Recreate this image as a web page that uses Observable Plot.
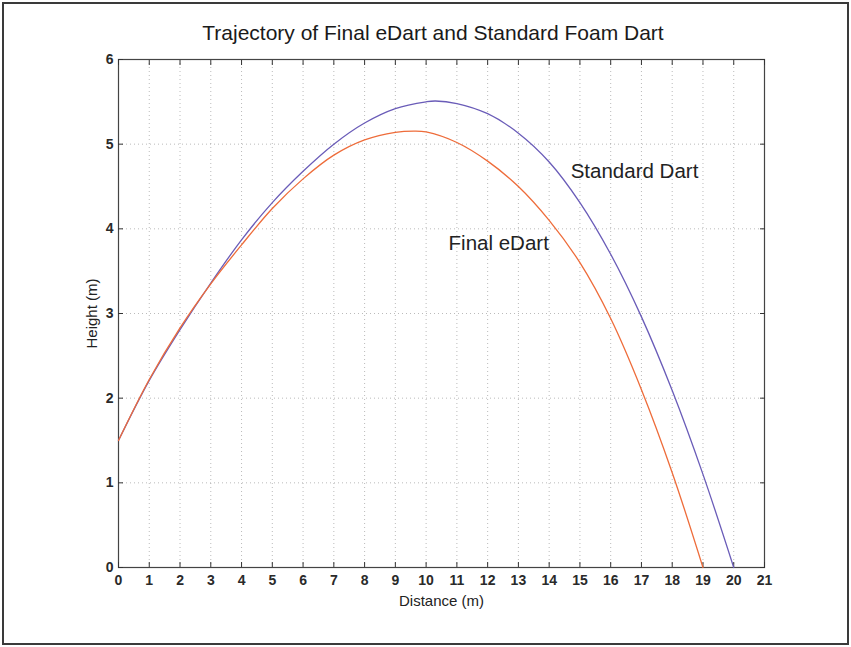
<!DOCTYPE html>
<html>
<head>
<meta charset="utf-8">
<script src="https://cdn.jsdelivr.net/npm/d3@7"></script>
<script src="https://cdn.jsdelivr.net/npm/@observablehq/plot@0.6"></script>
<style>
  html, body { margin: 0; padding: 0; background: #fff; }
  #wrap { position: relative; width: 851px; height: 647px; overflow: hidden; }
  #border { position: absolute; left: 2px; top: 2px; width: 843px; height: 639px; border: 2px solid #3a3a3a; pointer-events: none; }
  #title { position: absolute; left: 0; top: 21px; width: 866px; text-align: center;
           font: 21px "Liberation Sans", Arial, sans-serif; color: #1a1a1a; }
  svg { position: absolute; left: 0; top: 0; }
</style>
</head>
<body>
<div id="wrap">
  <div id="title">Trajectory of Final eDart and Standard Foam Dart</div>
  <div id="chart"></div>
  <div id="border"></div>
</div>
<script>
// Standard foam dart trajectory (distance m, height m)
const stdX = [0, 1, 2, 3, 4, 5, 6, 7, 8, 9, 10, 10.3, 11, 12, 13, 14, 15, 16, 17, 18, 19, 20];
const stdY = [1.50, 2.21, 2.81, 3.36, 3.87, 4.31, 4.68, 5.00, 5.25, 5.42, 5.50, 5.51, 5.48, 5.36, 5.13, 4.79, 4.31, 3.70, 2.96, 2.09, 1.10, 0];

// Final eDart trajectory
const edX = [0, 1, 2, 3, 4, 5, 6, 7, 8, 9, 9.6, 10, 11, 12, 13, 14, 15, 16, 17, 18, 19];
const edY = [1.50, 2.22, 2.83, 3.35, 3.81, 4.24, 4.59, 4.87, 5.05, 5.14, 5.155, 5.145, 5.02, 4.80, 4.50, 4.10, 3.60, 2.94, 2.10, 1.12, 0];

const xTicks = [0,1,2,3,4,5,6,7,8,9,10,11,12,13,14,15,16,17,18,19,20,21];
const yTicks = [0,1,2,3,4,5,6];

const labelNames = ["Standard Dart", "Final eDart"];
const labelX = [14.7, 10.73];
const labelY = [4.68, 3.83];

const standard = stdX.map((x, i) => ({x, y: stdY[i]}));
const edart = edX.map((x, i) => ({x, y: edY[i]}));
const labels = labelNames.map((t, i) => ({t, x: labelX[i], y: labelY[i]}));

const font = '"Liberation Sans", Arial, sans-serif';
const blank = () => "";

const chart = Plot.plot({
  width: 851,
  height: 647,
  marginLeft: 118,
  marginRight: 87,
  marginTop: 59,
  marginBottom: 80,
  style: { fontFamily: font, fontSize: "14px", color: "#222", background: "transparent" },
  x: { domain: [0, 21], label: null },
  y: { domain: [0, 6], label: null },
  marks: [
    Plot.gridX(xTicks, { stroke: "#777", strokeOpacity: 0.5, strokeDasharray: "1,3" }),
    Plot.gridY(yTicks, { stroke: "#777", strokeOpacity: 0.5, strokeDasharray: "1,3" }),
    Plot.frame({ stroke: "#444", strokeWidth: 1.2 }),
    // inward tick marks on all four sides
    Plot.axisX(xTicks, { anchor: "bottom", tickSize: 5, dy: -5, tickFormat: blank, stroke: "#333", label: null }),
    Plot.axisX(xTicks, { anchor: "top", tickSize: 5, dy: 5, tickFormat: blank, stroke: "#333", label: null }),
    Plot.axisY(yTicks, { anchor: "left", tickSize: 5, dx: 5, tickFormat: blank, stroke: "#333", label: null }),
    Plot.axisY(yTicks, { anchor: "right", tickSize: 5, dx: -5, tickFormat: blank, stroke: "#333", label: null }),
    // tick labels and axis titles
    Plot.axisX(xTicks, { anchor: "bottom", tickSize: 0, tickPadding: 8, fontSize: 14, fontWeight: "bold", fill: "#2a2a2a",
      label: null }),
    Plot.axisY(yTicks, { anchor: "left", tickSize: 0, tickPadding: 5, fontSize: 14, fontWeight: "bold", fill: "#2a2a2a",
      tickFormat: "d", label: null }),
    Plot.axisX({ anchor: "bottom", ticks: [], tickSize: 0, label: "Distance (m)", labelAnchor: "center", labelArrow: "none",
      labelOffset: 38, fontSize: 15, fill: "#222" }),
    Plot.axisY({ anchor: "left", ticks: [], tickSize: 0, label: "Height (m)", labelAnchor: "center", labelArrow: "none",
      labelOffset: 32, fontSize: 15, fill: "#222" }),
    Plot.line(standard, { x: "x", y: "y", stroke: "#6a5cb8", strokeWidth: 1.3, curve: "catmull-rom" }),
    Plot.line(edart, { x: "x", y: "y", stroke: "#ee6c3a", strokeWidth: 1.3, curve: "catmull-rom" }),
    Plot.text(labels, { x: "x", y: "y", text: "t", textAnchor: "start", fontSize: 20.5, fill: "#222" })
  ]
});
document.getElementById("chart").appendChild(chart);
</script>
</body>
</html>
